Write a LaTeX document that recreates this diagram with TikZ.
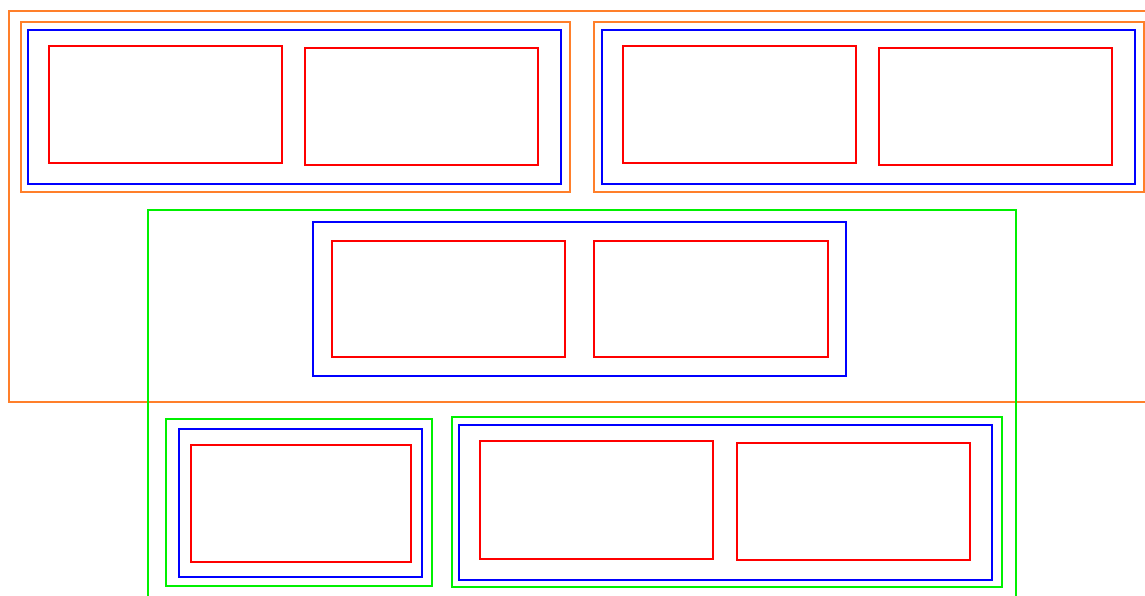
\documentclass[tikz,border=0pt]{standalone}
\usepackage{tikz}
\usetikzlibrary{positioning}
\definecolor{boxorange}{RGB}{255,127,42}
\definecolor{boxgreen}{RGB}{0,240,0}

\begin{document}
\begin{tikzpicture}[
    x=1pt, y=-1pt,
    % estilos das caixas
    redbox/.style={rectangle, draw=red, line width=2pt, minimum width=233pt, minimum height=117pt, inner sep=0pt},
    blueBg/.style={draw=blue, line width=2pt},
    orangeBg/.style={draw=boxorange, line width=2pt},
    greenBg/.style={draw=boxgreen, line width=2pt}
]
\clip (0,0) rectangle (1145,596);
\fill[white] (0,0) rectangle (1145,596);

% ==========================
% CAIXAS EXTERNAS
% ==========================
\draw[orangeBg] (8.5,11) rectangle (1160,402);
\draw[greenBg] (148,210) rectangle (1016.3,610);

% linha de cima
\draw[orangeBg] (20.5,22) rectangle (570.3,192.3);
\draw[blueBg] (28,30.3) rectangle (561,184);
\draw[orangeBg] (594.3,22) rectangle (1143.7,192.3);
\draw[blueBg] (601.7,30.3) rectangle (1135.3,184);

% meio
\draw[blueBg] (313,222) rectangle (846,376);

% linha de baixo
\draw[greenBg] (166,418.7) rectangle (432.3,586);
\draw[blueBg] (179,429.3) rectangle (422,576.7);
\draw[greenBg] (452,417) rectangle (1001.7,587.3);
\draw[blueBg] (459.3,425.3) rectangle (992.3,580);

% ==========================
% CAIXAS INTERNAS
% ==========================
\node[redbox] (r1a) at (165.3,104.8) {};
\node[redbox] (r1b) at (421.5,106.2) {};
\node[redbox] (r2a) at (739,104.8) {};
\node[redbox] (r2b) at (995.7,106.2) {};
\node[redbox, minimum height=116pt] (r3a) at (448.5,299) {};
\node[redbox, minimum height=116pt, minimum width=234pt] (r3b) at (711,299) {};
\node[redbox, minimum width=220.6pt] (r4) at (301,503.5) {};
\node[redbox, minimum height=117.7pt] (r5a) at (596.3,500.2) {};
\node[redbox, minimum height=117.3pt] (r5b) at (853,501.7) {};

\end{tikzpicture}
\end{document}
